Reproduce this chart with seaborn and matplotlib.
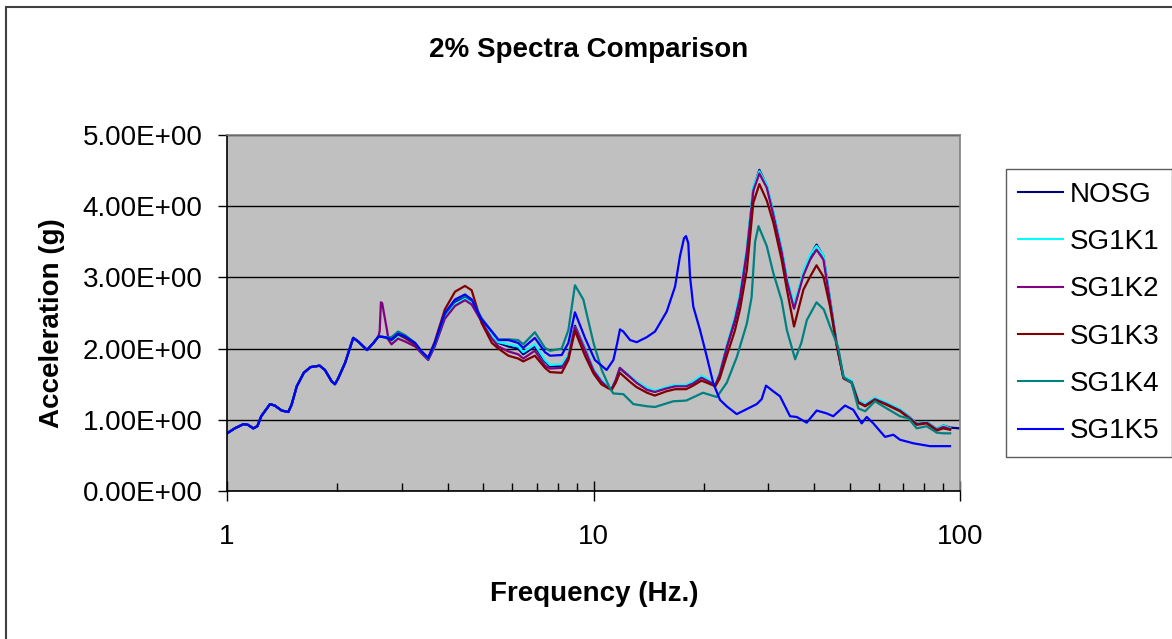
import numpy as np
import pandas as pd
import seaborn as sns
import matplotlib.pyplot as plt
from matplotlib.ticker import FixedLocator, FuncFormatter, LogLocator, NullFormatter
from matplotlib.lines import Line2D
from matplotlib.patches import Rectangle

# low end where all six spectra sit on top of each other (Hz, g)
f_common = [1.00, 1.05, 1.11, 1.14, 1.18, 1.21, 1.24, 1.31, 1.35, 1.41, 1.47, 1.50, 1.55,
            1.62, 1.69, 1.79, 1.85, 1.93, 1.97, 2.01, 2.10, 2.21, 2.28, 2.41, 2.51, 2.59]
a_common = [0.81, 0.88, 0.94, 0.93, 0.88, 0.91, 1.05, 1.22, 1.20, 1.13, 1.11, 1.21, 1.47,
            1.66, 1.74, 1.76, 1.70, 1.54, 1.50, 1.58, 1.80, 2.15, 2.10, 1.98, 2.08, 2.17]

# frequency grid for NOSG / SG1K1 / SG1K3 above the common part
f_group = [2.70, 2.81, 2.93, 3.06, 3.26, 3.40, 3.54, 3.69, 3.93, 4.19, 4.46, 4.65, 4.95,
           5.28, 5.50, 5.86, 6.23, 6.43, 6.92, 7.37, 7.61, 8.19, 8.54, 8.90, 9.48, 10.0,
           10.5, 10.9, 11.2, 11.5, 11.8, 12.6, 13.1, 14.0, 14.7, 15.8, 16.7, 17.9, 18.7,
           19.7, 20.4, 21.5, 22.1, 23.1, 24.3, 25.1, 26.2, 27.3, 28.35, 29.7, 30.95, 32.6,
           33.7, 35.25, 37.4, 39.0, 40.6, 42.4, 44.2, 46.05, 48.1, 50.6, 52.8, 55.1, 58.6,
           63.1, 68.6, 72.3, 76.2, 81.1, 86.4, 90.1, 94.0]

a_nosg = [2.16, 2.11, 2.19, 2.15, 2.06, 1.94, 1.85, 2.05, 2.46, 2.66, 2.72, 2.66, 2.40,
          2.20, 2.08, 2.03, 2.00, 1.92, 2.03, 1.82, 1.75, 1.76, 1.90, 2.32, 2.00, 1.70,
          1.55, 1.47, 1.43, 1.55, 1.72, 1.60, 1.53, 1.44, 1.40, 1.45, 1.48, 1.48, 1.52,
          1.60, 1.56, 1.49, 1.64, 2.02, 2.38, 2.69, 3.36, 4.25, 4.51, 4.29, 3.91, 3.39,
          2.97, 2.58, 3.06, 3.30, 3.46, 3.30, 2.69, 2.08, 1.60, 1.54, 1.26, 1.21, 1.30,
          1.23, 1.14, 1.05, 0.95, 0.97, 0.87, 0.92, 0.89]
f_nosg_end = [100.0]
a_nosg_end = [0.88]

a_sg1k1 = [2.16, 2.10, 2.18, 2.15, 2.06, 1.94, 1.84, 2.04, 2.44, 2.62, 2.70, 2.64, 2.40,
           2.19, 2.09, 2.06, 2.03, 1.95, 2.06, 1.84, 1.77, 1.78, 1.92, 2.30, 2.00, 1.71,
           1.56, 1.48, 1.44, 1.56, 1.73, 1.61, 1.54, 1.45, 1.41, 1.46, 1.49, 1.49, 1.54,
           1.62, 1.58, 1.50, 1.66, 2.05, 2.45, 2.78, 3.42, 4.28, 4.49, 4.30, 3.93, 3.41,
           3.00, 2.62, 3.09, 3.32, 3.44, 3.31, 2.70, 2.08, 1.61, 1.55, 1.27, 1.22, 1.31,
           1.24, 1.15, 1.05, 0.95, 0.97, 0.87, 0.92, 0.88]

a_sg1k3 = [2.16, 2.12, 2.20, 2.15, 2.06, 1.95, 1.87, 2.10, 2.55, 2.80, 2.88, 2.82, 2.36,
           2.08, 2.00, 1.90, 1.86, 1.82, 1.90, 1.73, 1.67, 1.66, 1.84, 2.25, 1.90, 1.65,
           1.50, 1.45, 1.42, 1.52, 1.66, 1.53, 1.46, 1.38, 1.34, 1.40, 1.43, 1.43, 1.48,
           1.55, 1.52, 1.47, 1.58, 1.90, 2.25, 2.55, 3.10, 4.05, 4.31, 4.08, 3.77, 3.25,
           2.83, 2.31, 2.83, 3.01, 3.17, 3.01, 2.59, 2.05, 1.58, 1.52, 1.24, 1.19, 1.28,
           1.21, 1.12, 1.03, 0.93, 0.95, 0.85, 0.88, 0.86]

# SG1K2 has the narrow spike near 2.6 Hz
f_sg1k2_spike = [2.61, 2.63, 2.65, 2.68, 2.73, 2.76]
a_sg1k2_spike = [2.25, 2.65, 2.64, 2.50, 2.27, 2.12]
a_sg1k2 = [2.06, 2.14, 2.10, 2.03, 1.93, 1.84, 2.03, 2.42, 2.60, 2.68, 2.62, 2.38,
           2.14, 2.03, 1.96, 1.92, 1.86, 1.97, 1.76, 1.72, 1.73, 1.88, 2.30, 1.98, 1.69,
           1.54, 1.46, 1.43, 1.56, 1.73, 1.60, 1.52, 1.42, 1.39, 1.44, 1.47, 1.47, 1.51,
           1.59, 1.55, 1.49, 1.64, 2.02, 2.40, 2.72, 3.36, 4.22, 4.46, 4.26, 3.88, 3.36,
           2.95, 2.56, 3.03, 3.25, 3.39, 3.25, 2.66, 2.06, 1.59, 1.53, 1.25, 1.20, 1.29,
           1.22, 1.13, 1.04, 0.94, 0.96, 0.86, 0.90, 0.87]

f_sg1k4 = [2.70, 2.81, 2.93, 3.06, 3.26, 3.40, 3.54, 3.69, 3.93, 4.19, 4.46, 4.65, 4.95,
           5.28, 5.50, 5.86, 6.23, 6.43, 6.92, 7.37, 7.61, 8.19, 8.54, 8.90, 9.38, 10.0,
           10.53, 11.09, 11.33, 12.06, 12.85, 14.0, 14.72, 16.5, 17.9, 19.9, 21.7, 23.1,
           24.6, 26.2, 27.0, 27.6, 28.2, 29.7, 30.95, 32.6, 33.7, 35.5, 36.9, 38.2, 40.6,
           42.5, 44.5, 46.5, 48.1, 50.6, 52.8, 55.1, 58.6, 63.1, 68.6, 72.3, 76.2, 81.1,
           86.4, 90.1, 94.0]
a_sg1k4 = [2.16, 2.16, 2.24, 2.19, 2.08, 1.95, 1.86, 2.06, 2.48, 2.68, 2.74, 2.69, 2.43,
           2.24, 2.13, 2.13, 2.12, 2.06, 2.23, 2.01, 1.97, 2.00, 2.26, 2.89, 2.69, 2.08,
           1.70, 1.44, 1.37, 1.36, 1.22, 1.19, 1.18, 1.26, 1.27, 1.38, 1.32, 1.52, 1.88,
           2.35, 2.72, 3.50, 3.72, 3.44, 3.06, 2.68, 2.26, 1.85, 2.08, 2.40, 2.65, 2.55,
           2.27, 2.02, 1.60, 1.52, 1.16, 1.12, 1.26, 1.16, 1.05, 1.02, 0.88, 0.91, 0.82,
           0.81, 0.81]

f_sg1k5 = [2.70, 2.81, 2.93, 3.06, 3.26, 3.40, 3.54, 3.69, 3.93, 4.19, 4.46, 4.65, 4.95,
           5.28, 5.50, 5.86, 6.23, 6.43, 6.92, 7.37, 7.61, 8.19, 8.54, 8.90, 9.48, 10.09,
           10.86, 11.33, 11.61, 11.81, 12.06, 12.58, 13.12, 13.97, 14.72, 15.19, 15.84,
           16.69, 17.22, 17.66, 17.88, 18.14, 18.34, 18.72, 19.53, 20.37, 21.23, 22.14,
           23.09, 24.59, 26.18, 27.88, 28.76, 29.56, 30.95, 32.28, 34.38, 35.85, 38.17,
           40.64, 43.28, 45.1, 48.56, 51.16, 53.92, 55.66, 58.0, 62.44, 65.8, 68.6, 74.6,
           82.8, 93.9]
a_sg1k5 = [2.16, 2.13, 2.21, 2.17, 2.08, 1.96, 1.87, 2.08, 2.50, 2.69, 2.76, 2.69, 2.41,
           2.24, 2.12, 2.12, 2.08, 2.01, 2.15, 1.95, 1.90, 1.91, 2.08, 2.51, 2.15, 1.84,
           1.70, 1.84, 2.08, 2.27, 2.24, 2.12, 2.09, 2.16, 2.24, 2.36, 2.52, 2.87, 3.30,
           3.55, 3.58, 3.48, 3.01, 2.59, 2.26, 1.89, 1.51, 1.28, 1.19, 1.08, 1.15, 1.22,
           1.29, 1.48, 1.40, 1.33, 1.05, 1.04, 0.96, 1.13, 1.09, 1.05, 1.20, 1.14, 0.95,
           1.04, 0.95, 0.76, 0.79, 0.72, 0.67, 0.63, 0.63]

names = ["NOSG", "SG1K1", "SG1K2", "SG1K3", "SG1K4", "SG1K5"]
colors = ["#000080", "#00FFFF", "#800080", "#800000", "#008080", "#0000FF"]
y_ticks = [0, 1, 2, 3, 4, 5]
x_ticks = [1, 10, 100]

series = {
    "NOSG": (f_group + f_nosg_end, a_nosg + a_nosg_end),
    "SG1K1": (f_group, a_sg1k1),
    "SG1K2": (f_sg1k2_spike + f_group[1:], a_sg1k2_spike + a_sg1k2),
    "SG1K3": (f_group, a_sg1k3),
    "SG1K4": (f_sg1k4, a_sg1k4),
    "SG1K5": (f_sg1k5, a_sg1k5),
}
frames = []
for name, (f, a) in series.items():
    frames.append(pd.DataFrame({"Frequency": f_common + f,
                                "Acceleration": a_common + a,
                                "Series": name}))
df = pd.concat(frames, ignore_index=True)

plt.rcParams['font.family'] = ['Liberation Sans', 'DejaVu Sans']
W, H = 1172, 639
fig = plt.figure(figsize=(W / 100, H / 100), dpi=100)
ax = fig.add_axes([227 / W, 1 - 491 / H, 733 / W, 356 / H])
ax.set_facecolor('#C0C0C0')

sns.lineplot(data=df, x="Frequency", y="Acceleration", hue="Series",
             hue_order=names, palette=colors, estimator=None, sort=False,
             linewidth=1.6, ax=ax, legend=False)

ax.set_xscale('log')
ax.set_xlim(1, 100)
ax.set_ylim(0, 5)
ax.set_xlabel('')
ax.set_ylabel('')

ax.yaxis.set_major_locator(FixedLocator(y_ticks))
ax.yaxis.set_major_formatter(FuncFormatter(lambda v, p: '{:.2E}'.format(v)))
ax.xaxis.set_major_locator(FixedLocator(x_ticks))
ax.xaxis.set_major_formatter(FuncFormatter(lambda v, p: '{:g}'.format(v)))
ax.xaxis.set_minor_locator(LogLocator(base=10, subs=range(2, 10)))
ax.xaxis.set_minor_formatter(NullFormatter())

ax.tick_params(axis='y', which='major', direction='out', length=6.5, width=1,
               color='black', labelsize=20, pad=11)
ax.tick_params(axis='x', which='major', direction='inout', length=14, width=1,
               color='black', labelsize=20, pad=17)
ax.tick_params(axis='x', which='minor', direction='in', length=6, width=1, color='black')

ax.yaxis.grid(True, color='black', linewidth=1)
ax.set_axisbelow(True)
for side in ['left', 'bottom']:
    ax.spines[side].set_color('black')
    ax.spines[side].set_linewidth(1.2)
for side in ['top', 'right']:
    ax.spines[side].set_color('#808080')
    ax.spines[side].set_linewidth(1.2)

fig.text(589 / W, 1 - 57.3 / H, '2% Spectra Comparison', ha='center', va='baseline',
         fontsize=20, fontweight='bold')
fig.text(594.5 / W, 1 - 600.7 / H, 'Frequency (Hz.)', ha='center', va='baseline',
         fontsize=20, fontweight='bold')
fig.text(59.3 / W, 1 - 323 / H, 'Acceleration (g)', ha='center', va='baseline',
         rotation=90, rotation_mode='anchor', fontsize=20, fontweight='bold')

handles = [Line2D([], [], color=c, linewidth=1.5) for c in colors]
leg = ax.legend(handles, names, loc='upper left',
                bbox_to_anchor=(1005.7 / W, 1 - 169 / H), bbox_transform=fig.transFigure,
                borderaxespad=0, fontsize=20, frameon=True, fancybox=False,
                handlelength=1.6, handletextpad=0.25, labelspacing=0.77, borderpad=0.45)
leg.get_frame().set_edgecolor('#333333')
leg.get_frame().set_linewidth(1.0)

# outer chart border (right and bottom edges fall outside the picture)
fig.add_artist(Rectangle((6 / W, -0.1), 2.0, 1.1 - 6.7 / H, transform=fig.transFigure,
                         fill=False, edgecolor='#404040', linewidth=1.5))

fig.savefig('out.png', dpi=100)
